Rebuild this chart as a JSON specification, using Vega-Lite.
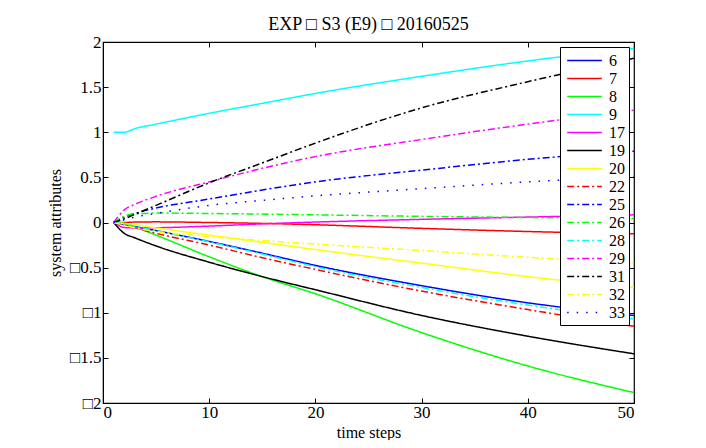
{
  "$schema": "https://vega.github.io/schema/vega-lite/v6.json",
  "width": 531,
  "height": 361,
  "padding": {"left": 47, "top": 16, "right": 10, "bottom": 0},
  "background": "white",
  "title": {"text": "EXP □ S3 (E9) □ 20160525", "font": "Liberation Serif", "fontSize": 18, "fontWeight": "normal", "color": "#000000", "offset": -1},
  "config": {
    "view": {"stroke": "#000000", "strokeWidth": 1.2},
    "axis": {"grid": false, "domainColor": "#000000", "tickColor": "#000000", "labelFont": "Liberation Serif", "labelFontSize": 17, "labelColor": "#000000", "titleFont": "Liberation Serif", "titleFontSize": 16, "titleFontWeight": "normal", "titleColor": "#000000", "tickSize": -5, "labelPadding": 7},
    "legend": {"orient": "top-right", "offset": 5, "strokeColor": "#000000", "fillColor": "white", "padding": 4, "labelFont": "Liberation Serif", "labelFontSize": 16, "labelColor": "#000000", "symbolType": "M-2,0H2", "symbolSize": 300, "symbolStrokeWidth": 1.5, "symbolOffset": 11, "rowPadding": -1, "labelOffset": 15}
  },
  "data": {"values": [
    {"s":"6","t":1,"v":0},{"s":"6","t":2,"v":-0.02},{"s":"6","t":3,"v":-0.045},{"s":"6","t":5,"v":-0.09},{"s":"6","t":10,"v":-0.21},{"s":"6","t":15,"v":-0.34},{"s":"6","t":20,"v":-0.475},{"s":"6","t":30,"v":-0.7},{"s":"6","t":40,"v":-0.89},{"s":"6","t":50,"v":-1.03},
    {"s":"7","t":1,"v":0},{"s":"7","t":2,"v":0.0},{"s":"7","t":3,"v":0.005},{"s":"7","t":5,"v":0.007},{"s":"7","t":10,"v":0.0},{"s":"7","t":15,"v":-0.01},{"s":"7","t":20,"v":-0.025},{"s":"7","t":30,"v":-0.065},{"s":"7","t":40,"v":-0.1},{"s":"7","t":50,"v":-0.125},
    {"s":"8","t":1,"v":0},{"s":"8","t":2,"v":-0.01},{"s":"8","t":3,"v":-0.05},{"s":"8","t":5,"v":-0.14},{"s":"8","t":10,"v":-0.38},{"s":"8","t":15,"v":-0.6},{"s":"8","t":20,"v":-0.79},{"s":"8","t":30,"v":-1.22},{"s":"8","t":40,"v":-1.59},{"s":"8","t":50,"v":-1.885},
    {"s":"9","t":1,"v":1.0},{"s":"9","t":2,"v":1.0},{"s":"9","t":3,"v":1.04},{"s":"9","t":5,"v":1.09},{"s":"9","t":10,"v":1.21},{"s":"9","t":15,"v":1.32},{"s":"9","t":20,"v":1.43},{"s":"9","t":30,"v":1.62},{"s":"9","t":40,"v":1.79},{"s":"9","t":50,"v":1.93},
    {"s":"17","t":1,"v":0},{"s":"17","t":2,"v":-0.055},{"s":"17","t":3,"v":-0.06},{"s":"17","t":5,"v":-0.058},{"s":"17","t":10,"v":-0.04},{"s":"17","t":15,"v":-0.015},{"s":"17","t":20,"v":0.005},{"s":"17","t":30,"v":0.035},{"s":"17","t":40,"v":0.06},{"s":"17","t":50,"v":0.085},
    {"s":"19","t":1,"v":0},{"s":"19","t":2,"v":-0.12},{"s":"19","t":3,"v":-0.17},{"s":"19","t":5,"v":-0.26},{"s":"19","t":10,"v":-0.44},{"s":"19","t":15,"v":-0.6},{"s":"19","t":20,"v":-0.745},{"s":"19","t":30,"v":-1.03},{"s":"19","t":40,"v":-1.26},{"s":"19","t":50,"v":-1.455},
    {"s":"20","t":1,"v":0},{"s":"20","t":2,"v":-0.01},{"s":"20","t":3,"v":-0.025},{"s":"20","t":5,"v":-0.06},{"s":"20","t":10,"v":-0.14},{"s":"20","t":15,"v":-0.22},{"s":"20","t":20,"v":-0.3},{"s":"20","t":30,"v":-0.45},{"s":"20","t":40,"v":-0.6},{"s":"20","t":50,"v":-0.72},
    {"s":"22","t":1,"v":0},{"s":"22","t":2,"v":-0.03},{"s":"22","t":3,"v":-0.06},{"s":"22","t":5,"v":-0.12},{"s":"22","t":10,"v":-0.25},{"s":"22","t":15,"v":-0.39},{"s":"22","t":20,"v":-0.52},{"s":"22","t":30,"v":-0.76},{"s":"22","t":40,"v":-0.965},{"s":"22","t":50,"v":-1.15},
    {"s":"25","t":1,"v":0},{"s":"25","t":2,"v":0.06},{"s":"25","t":3,"v":0.1},{"s":"25","t":5,"v":0.16},{"s":"25","t":10,"v":0.26},{"s":"25","t":15,"v":0.36},{"s":"25","t":20,"v":0.45},{"s":"25","t":30,"v":0.58},{"s":"25","t":40,"v":0.7},{"s":"25","t":50,"v":0.79},
    {"s":"26","t":1,"v":0},{"s":"26","t":2,"v":0.07},{"s":"26","t":3,"v":0.095},{"s":"26","t":5,"v":0.105},{"s":"26","t":10,"v":0.1},{"s":"26","t":20,"v":0.085},{"s":"26","t":30,"v":0.068},{"s":"26","t":40,"v":0.055},{"s":"26","t":50,"v":0.045},
    {"s":"28","t":1,"v":0},{"s":"28","t":2,"v":-0.015},{"s":"28","t":3,"v":-0.04},{"s":"28","t":5,"v":-0.09},{"s":"28","t":10,"v":-0.215},{"s":"28","t":15,"v":-0.35},{"s":"28","t":20,"v":-0.49},{"s":"28","t":30,"v":-0.72},{"s":"28","t":40,"v":-0.915},{"s":"28","t":50,"v":-1.07},
    {"s":"29","t":1,"v":0},{"s":"29","t":2,"v":0.14},{"s":"29","t":3,"v":0.2},{"s":"29","t":5,"v":0.29},{"s":"29","t":10,"v":0.45},{"s":"29","t":15,"v":0.6},{"s":"29","t":20,"v":0.73},{"s":"29","t":30,"v":0.92},{"s":"29","t":40,"v":1.09},{"s":"29","t":50,"v":1.245},
    {"s":"31","t":1,"v":0},{"s":"31","t":2,"v":0.04},{"s":"31","t":3,"v":0.09},{"s":"31","t":5,"v":0.19},{"s":"31","t":10,"v":0.44},{"s":"31","t":15,"v":0.66},{"s":"31","t":20,"v":0.88},{"s":"31","t":30,"v":1.27},{"s":"31","t":40,"v":1.56},{"s":"31","t":50,"v":1.82},
    {"s":"32","t":1,"v":0},{"s":"32","t":2,"v":-0.03},{"s":"32","t":3,"v":-0.06},{"s":"32","t":5,"v":-0.1},{"s":"32","t":10,"v":-0.155},{"s":"32","t":15,"v":-0.2},{"s":"32","t":20,"v":-0.24},{"s":"32","t":30,"v":-0.31},{"s":"32","t":40,"v":-0.385},{"s":"32","t":50,"v":-0.45},
    {"s":"33","t":1,"v":0},{"s":"33","t":2,"v":0.03},{"s":"33","t":3,"v":0.06},{"s":"33","t":5,"v":0.1},{"s":"33","t":10,"v":0.19},{"s":"33","t":15,"v":0.245},{"s":"33","t":20,"v":0.295},{"s":"33","t":30,"v":0.375},{"s":"33","t":40,"v":0.45},{"s":"33","t":50,"v":0.51}
  ]},
  "layer": [
    {
      "mark": {"type": "line", "strokeWidth": 1.5, "interpolate": "monotone", "clip": true},
      "encoding": {
        "x": {"field": "t", "type": "quantitative", "scale": {"domain": [0, 50], "nice": false}, "axis": {"title": "time steps", "values": [0,10,20,30,40,50], "titlePadding": 4, "labelPadding": 6, "orient": "bottom"}},
        "y": {"field": "v", "type": "quantitative", "scale": {"domain": [-2, 2], "nice": false}, "axis": {"title": "system attributes", "values": [-2,-1.5,-1,-0.5,0,0.5,1,1.5,2], "format": "~r", "labelExpr": "datum.value < 0 ? '□' + slice(datum.label, 1) : datum.label", "titlePadding": 6, "orient": "left"}},
        "color": {"field": "s", "type": "nominal", "title": null, "scale": {"domain": ["6","7","8","9","17","19","20","22","25","26","28","29","31","32","33"], "range": ["#0000ff","#ff0000","#00ff00","#00ffff","#ff00ff","#000000","#ffff00","#ff0000","#0000ff","#00ff00","#00ffff","#ff00ff","#000000","#ffff00","#0000ff"]}},
        "strokeDash": {"field": "s", "type": "nominal", "title": null, "scale": {"domain": ["6","7","8","9","17","19","20","22","25","26","28","29","31","32","33"], "range": [[1,0],[1,0],[1,0],[1,0],[1,0],[1,0],[1,0],[7,3,2,3],[7,3,2,3],[7,3,2,3],[7,3,2,3],[7,3,2,3],[7,3,2,3],[7,3,2,3],[1.5,8]]}}
      }
    },
    {
      "mark": {"type": "line", "opacity": 0},
      "encoding": {
        "x": {"field": "t", "type": "quantitative", "axis": {"orient": "top", "labels": false, "title": null, "domain": false, "values": [0,10,20,30,40,50]}},
        "y": {"field": "v", "type": "quantitative", "axis": {"orient": "right", "labels": false, "title": null, "domain": false, "values": [-2,-1.5,-1,-0.5,0,0.5,1,1.5,2]}},
        "detail": {"field": "s"}
      }
    }
  ],
  "resolve": {"axis": {"x": "independent", "y": "independent"}}
}
